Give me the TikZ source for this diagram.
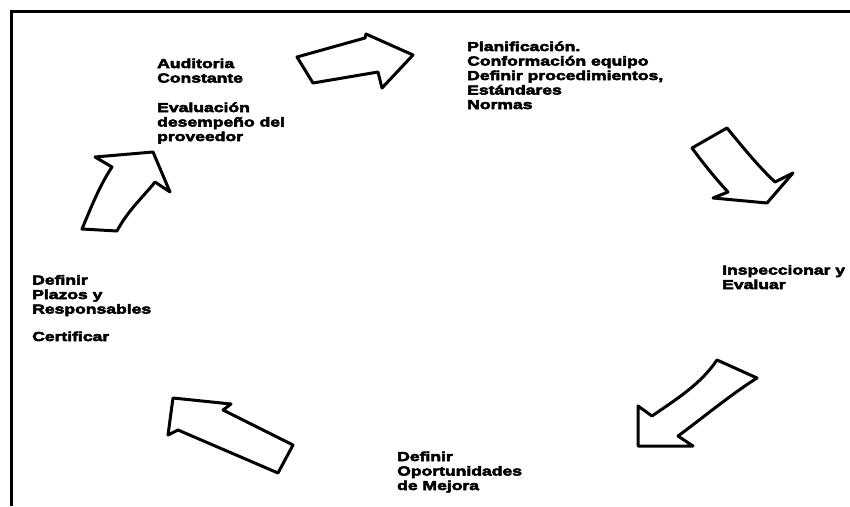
\documentclass[tikz,border=0pt]{standalone}
\usepackage{fontspec}
\newfontfamily\heavy{Liberation Sans Bold}[FakeStretch=1.35, FakeBold=4]
\begin{document}
\begin{tikzpicture}[x=1pt, y=-1pt,
  lbl/.style={anchor=base west, inner sep=0pt, align=left,
    font=\heavy\fontsize{13}{14.5}\selectfont},
  blockarrow/.style={draw=black, fill=white, line width=3pt, line join=round}]
\useasboundingbox (0,0) rectangle (850,506);
% open frame: top and left edges
\draw[line width=3pt] (11,506) -- (11,11.5) -- (850,11.5);

% stage labels (placed by the baseline of their last line)
\node[lbl] (audit) at (157,141) {Auditoria\\Constante\\[15pt]Evaluación\\desempeño del\\proveedor};
\node[lbl] (plan) at (467,109) {Planificación.\\Conformación equipo\\Definir procedimientos,\\Estándares\\Normas};
\node[lbl] (insp) at (722,289) {Inspeccionar y\\Evaluar};
\node[lbl] (mejora) at (397,490) {Definir\\Oportunidades\\de Mejora};
\node[lbl] (plazos) at (32,341) {Definir\\Plazos y\\Responsables\\[13pt]Certificar};

% block arrows of the cycle
\draw[blockarrow] (297,57) -- (365,38) -- (366,34) -- (413,55) -- (382,88) -- (378,72) -- (313,83) -- cycle;
\draw[blockarrow] (692,148) -- (727,128) .. controls (745,150) and (760,168) .. (775,182)
  -- (793,173) -- (767,203) -- (713,198) -- (728,192) .. controls (715,178) and (703,163) .. cycle;
\draw[blockarrow] (717,360) -- (757,378) .. controls (730,395) and (700,420) .. (678,436)
  -- (693,446) -- (638,446) -- (638,406) -- (652,416) .. controls (675,400) and (700,385) .. cycle;
\draw[blockarrow] (278,473) -- (293,445) -- (223,410) -- (231,404) -- (173,398) -- (168,435) -- (178,430) -- cycle;
\draw[blockarrow] (82,229) .. controls (92,205) and (100,185) .. (112,167) -- (95,157) -- (153,152)
  -- (170,192) -- (155,182) .. controls (145,195) and (128,210) .. (117,231) -- cycle;
\end{tikzpicture}
\end{document}
